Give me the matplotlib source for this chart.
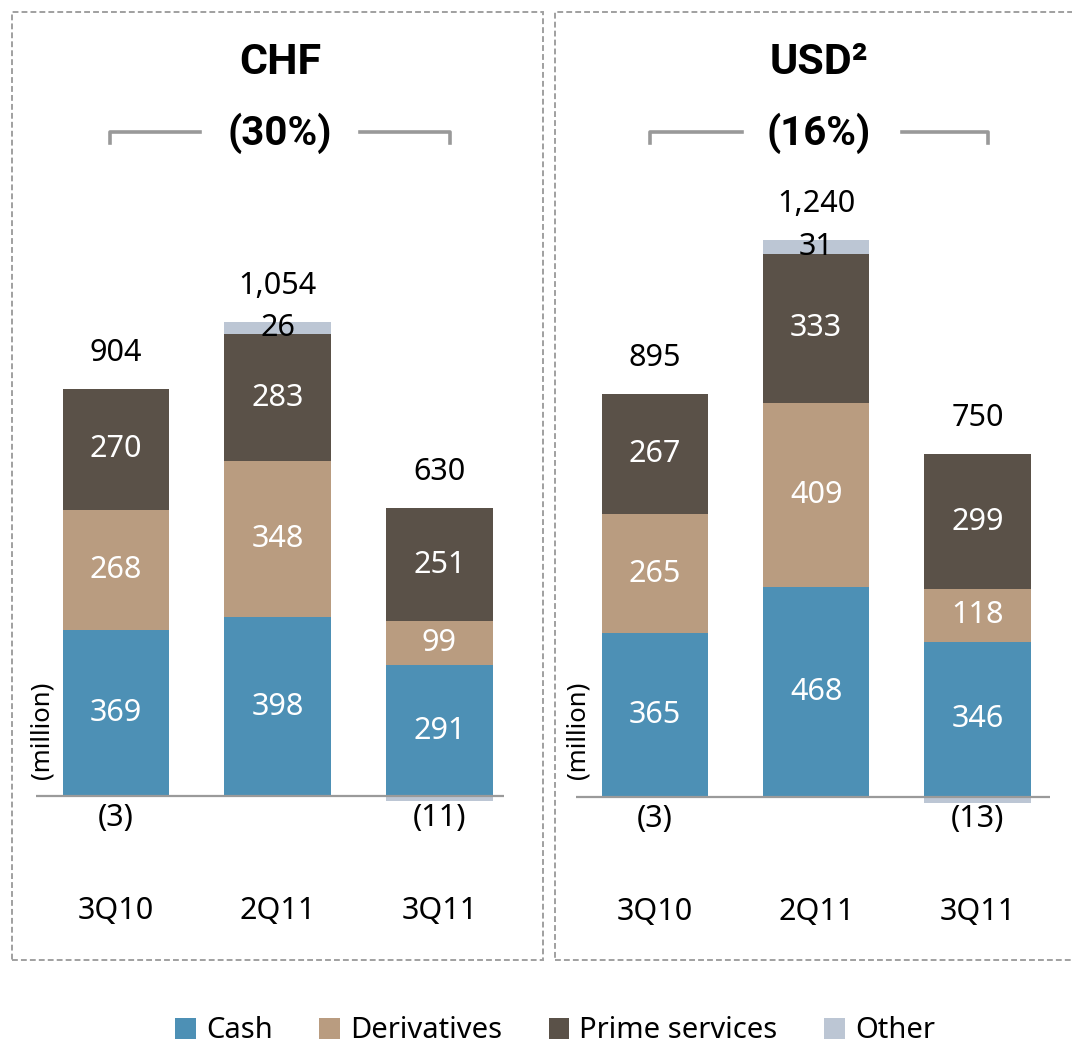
import numpy as np
import matplotlib
matplotlib.use("Agg")
import matplotlib.pyplot as plt
from matplotlib.patches import Rectangle, Patch
from matplotlib.lines import Line2D

plt.rcParams["font.family"] = ["Noto Sans", "DejaVu Sans"]

# data
quarters = ["3Q10", "2Q11", "3Q11"]
series = ["Cash", "Derivatives", "Prime services", "Other"]
colors = ["#4d90b5", "#b99c80", "#5a5148", "#bcc6d4"]

chf_cash = [369, 398, 291]
chf_deriv = [268, 348, 99]
chf_prime = [270, 283, 251]
chf_other = [-3, 26, -11]
chf_total = [904, 1054, 630]

usd_cash = [365, 468, 346]
usd_deriv = [265, 409, 118]
usd_prime = [267, 333, 299]
usd_other = [-3, 31, -13]
usd_total = [895, 1240, 750]

W, H = 1072, 1045
SCALE = 0.449  # px per million
BOLD = ["Roboto", "DejaVu Sans"]
fig = plt.figure(figsize=(W / 100, H / 100), dpi=100)


def fx(px):
    return px / W


def fy(py):
    return 1 - py / H


def draw_panel(x0, x1, base_y, xlim, values, totals, title, pct, brk, mill_x):
    ax = fig.add_axes([fx(x0), fy(960), fx(x1) - fx(x0), (960 - 180) / H])
    ax.set_xlim(*xlim)
    ax.set_ylim(-(960 - base_y) / SCALE, (base_y - 180) / SCALE)
    ax.axis("off")
    x = np.arange(len(quarters))
    pos_bottom = np.zeros(len(quarters))
    for vals, col, name in zip(values, colors, series):
        vals = np.array(vals, dtype=float)
        bottom = np.where(vals >= 0, pos_bottom, 0)
        ax.bar(x, vals, 0.66, bottom=bottom, color=col, zorder=2)
        for i, v in enumerate(vals):
            if name == "Other":
                if v >= 0:
                    ax.text(i, bottom[i] + v / 2, f"{int(v)}", ha="center", va="center",
                            fontsize=22, color="black", zorder=4)
                else:
                    ax.annotate(f"({int(-v)})", (i, 0), xytext=(0, -22), textcoords="offset pixels",
                                ha="center", va="center", fontsize=22)
            else:
                ax.text(i, bottom[i] + v / 2, f"{int(v)}", ha="center", va="center",
                        fontsize=22, color="white", zorder=4)
        pos_bottom = pos_bottom + np.where(vals >= 0, vals, 0)
    for i, t in enumerate(totals):
        ax.annotate(f"{t:,}", (i, pos_bottom[i]), xytext=(0, 36), textcoords="offset pixels",
                    ha="center", va="center", fontsize=22)
        ax.annotate(quarters[i], (i, 0), xytext=(0, -115), textcoords="offset pixels",
                    ha="center", va="center", fontsize=22)
    ax.axhline(0, color="#9a9a9a", lw=1.6, zorder=3)

    cx = (brk[0] + brk[3]) / 2
    fig.text(fx(cx), fy(62), title, ha="center", va="center", fontsize=31,
             family=BOLD, fontweight="bold")
    fig.text(fx(cx), fy(133), pct, ha="center", va="center", fontsize=29,
             family=BOLD, fontweight="bold")
    gray = "#999999"
    fig.add_artist(Line2D([fx(brk[0]), fx(brk[0]), fx(brk[1])], [fy(143), fy(132), fy(132)],
                          color=gray, lw=2.6, transform=fig.transFigure))
    fig.add_artist(Line2D([fx(brk[2]), fx(brk[3]), fx(brk[3])], [fy(132), fy(132), fy(143)],
                          color=gray, lw=2.6, transform=fig.transFigure))
    fig.text(fx(mill_x), fy(730), "(million)", rotation=90, ha="center", va="center", fontsize=18.5)


draw_panel(36, 504, 796, (-0.495, 2.4),
           [chf_cash, chf_deriv, chf_prime, chf_other], chf_total,
           "CHF", "(30%)", (110, 200, 360, 450), 42)
draw_panel(576, 1050, 797, (-0.49, 2.45),
           [usd_cash, usd_deriv, usd_prime, usd_other], usd_total,
           "USD²", "(16%)", (650, 742, 902, 988), 578)

# dashed panel frames
for left, right in [(12, 543), (555, 1078)]:
    fig.add_artist(Rectangle((fx(left), fy(960)), fx(right) - fx(left), (960 - 12) / H,
                             transform=fig.transFigure, fill=False, ec="#a0a0a0",
                             lw=1.4, ls=(0, (3, 1.6))))

handles = [Patch(facecolor=c, edgecolor="none", label=s) for c, s in zip(colors, series)]
fig.legend(handles=handles, loc="center", bbox_to_anchor=(fx(555), fy(1031)), ncol=4,
           frameon=False, fontsize=21, handlelength=0.7, handleheight=0.7,
           handletextpad=0.35, columnspacing=1.6)

fig.savefig("out.png", dpi=100)
